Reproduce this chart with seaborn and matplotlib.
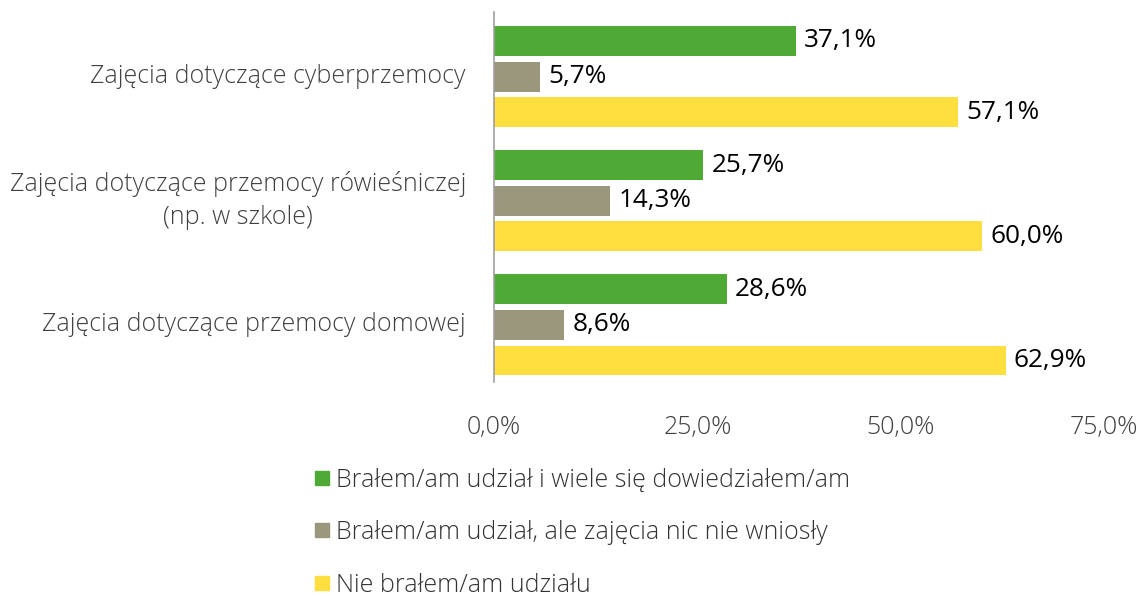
import matplotlib
matplotlib.use("Agg")
import matplotlib.pyplot as plt
import seaborn as sns
import pandas as pd
from matplotlib.lines import Line2D
from matplotlib.transforms import blended_transform_factory

categories = [
    "Zajęcia dotyczące cyberprzemocy",
    "Zajęcia dotyczące przemocy rówieśniczej\n(np. w szkole)",
    "Zajęcia dotyczące przemocy domowej",
]
series = [
    "Brałem/am udział i wiele się dowiedziałem/am",
    "Brałem/am udział, ale zajęcia nic nie wniosły",
    "Nie brałem/am udziału",
]
learned = [37.1, 25.7, 28.6]
nothing = [5.7, 14.3, 8.6]
not_taken = [57.1, 60.0, 62.9]
colors = ["#4EAA35", "#9B977C", "#FFDF3F"]
xticks = [0, 25, 50, 75]

rows = []
for vals, s in zip([learned, nothing, not_taken], series):
    for c, v in zip(categories, vals):
        rows.append({"cat": c, "series": s, "val": v})
df = pd.DataFrame(rows)

sns.set_theme(style="white")
plt.rcParams["font.family"] = ["Open Sans", "DejaVu Sans"]

fig = plt.figure(figsize=(11.38, 5.96), dpi=100)
ax = fig.add_axes([494 / 1138, 1 - 382 / 596, 610 / 1138, 370 / 596])

sns.barplot(data=df, y="cat", x="val", hue="series", order=categories,
            hue_order=series, palette=colors, orient="h", width=0.86,
            ax=ax, legend=False, saturation=1, linewidth=0)

# shrink bars slightly to leave white gaps
for p in ax.patches:
    h = p.get_height()
    newh = h * 0.84
    p.set_y(p.get_y() + (h - newh) / 2)
    p.set_height(newh)

for cont in ax.containers:
    labels = [f"{v:.1f}".replace(".", ",") + "%" for v in cont.datavalues]
    ax.bar_label(cont, labels=labels, padding=6, fontsize=18.8, color="#000000")

ax.set_xlim(0, 75)
ax.set_ylim(2.46, -0.52)
ax.set_xticks(xticks)
ax.set_xticklabels([f"{t:.1f}".replace(".", ",") + "%" for t in xticks],
                   fontsize=18, color="#404040", fontweight="light")
ax.tick_params(axis="x", length=0, pad=24)
ax.set_yticks(range(len(categories)))
ax.set_yticklabels([])
ax.tick_params(axis="y", length=0)
ax.set_xlabel("")
ax.set_ylabel("")
for s in ["top", "right", "bottom"]:
    ax.spines[s].set_visible(False)
ax.spines["left"].set_color("#A0A0A0")
ax.spines["left"].set_linewidth(1.2)

trans = blended_transform_factory(ax.transAxes, ax.transData)
for i, c in enumerate(categories):
    ax.text((466 - 494) / 610, i, c, transform=trans, ha="right", va="center",
            multialignment="center", fontsize=18, color="#404040",
            fontweight="light", linespacing=1.4)

handles = [Line2D([0], [0], marker="s", linestyle="", markersize=10.5,
                  markerfacecolor=c, markeredgecolor=c) for c in colors]
fig.legend(handles, series, loc="upper left", bbox_to_anchor=(290 / 1138, 1 - 445 / 596),
           frameon=False, labelspacing=1.1, handletextpad=0.2,
           handlelength=0.75, labelcolor="#333333", prop={"weight": "light", "size": 18})

fig.savefig("out.png", dpi=100)
